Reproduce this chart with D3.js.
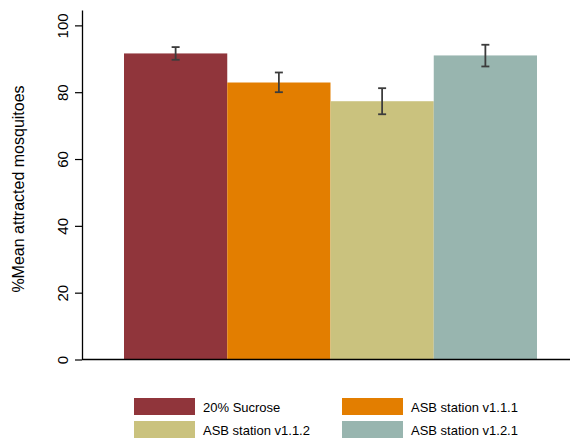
<!DOCTYPE html>
<html>
<head>
<meta charset="utf-8">
<script src="https://cdn.jsdelivr.net/npm/d3@7"></script>
<style>
  body { margin: 0; background: #fff; }
  text { font-family: "Liberation Sans", Arial, Helvetica, sans-serif; fill: #000; }
</style>
</head>
<body>
<svg id="chart" width="572" height="438"></svg>
<script>
// data
var categories = ["20% Sucrose", "ASB station v1.1.1", "ASB station v1.1.2", "ASB station v1.2.1"];
var means = [91.6, 82.9, 77.3, 91.0];
var lower = [89.7, 80.0, 73.4, 87.7];
var upper = [93.5, 85.9, 81.2, 94.2];
var colors = ["#90353b", "#e37e00", "#cac27e", "#98b5af"];
var yTicks = [0, 20, 40, 60, 80, 100];

var svg = d3.select("#chart");

var x = d3.scaleBand()
    .domain(categories)
    .range([124, 537])
    .padding(0);

// plot region runs a bit above 100
var y = d3.scaleLinear()
    .domain([0, 104.6])
    .range([359.5, 10]);

var z = d3.scaleOrdinal()
    .domain(categories)
    .range(colors);

var data = categories.map(function(c, i) {
  return {key: c, mean: means[i], lo: lower[i], hi: upper[i]};
});

// bars
svg.append("g")
  .selectAll("rect")
  .data(data)
  .enter().append("rect")
    .attr("x", function(d) { return x(d.key); })
    .attr("y", function(d) { return y(d.mean); })
    .attr("width", x.bandwidth())
    .attr("height", function(d) { return y(0) - y(d.mean); })
    .attr("fill", function(d) { return z(d.key); });

// error bars
var eb = svg.append("g")
    .attr("stroke", "#3c3c3c")
    .attr("stroke-width", 1.8)
  .selectAll("g")
  .data(data)
  .enter().append("g")
    .attr("transform", function(d) { return "translate(" + (x(d.key) + x.bandwidth() / 2) + ",0)"; });
eb.append("line")
    .attr("y1", function(d) { return y(d.lo); })
    .attr("y2", function(d) { return y(d.hi); });
eb.append("line")
    .attr("x1", -4).attr("x2", 4)
    .attr("y1", function(d) { return y(d.hi); })
    .attr("y2", function(d) { return y(d.hi); });
eb.append("line")
    .attr("x1", -4).attr("x2", 4)
    .attr("y1", function(d) { return y(d.lo); })
    .attr("y2", function(d) { return y(d.lo); });

// y axis
var yAxis = d3.axisLeft(y)
    .tickValues(yTicks)
    .tickSize(7)
    .tickSizeOuter(0)
    .tickPadding(7);

var ya = svg.append("g")
    .attr("transform", "translate(82,0)")
    .call(yAxis);
ya.select(".domain").attr("stroke", "#000").attr("stroke-width", 1.3);
ya.selectAll(".tick line").attr("stroke", "#000").attr("stroke-width", 1.2);
ya.selectAll(".tick text")
    .attr("font-size", 15)
    .attr("font-family", "Liberation Sans, Arial, sans-serif")
    .attr("text-anchor", "middle")
    .attr("x", 0).attr("y", 0).attr("dy", 0)
    .attr("transform", "translate(-14,0) rotate(-90)");

// x axis line
svg.append("line")
    .attr("x1", 82).attr("x2", 570)
    .attr("y1", y(0)).attr("y2", y(0))
    .attr("stroke", "#000")
    .attr("stroke-width", 1.3);

// y title
svg.append("text")
    .attr("transform", "translate(24,189) rotate(-90)")
    .attr("text-anchor", "middle")
    .attr("font-size", 16)
    .text("%Mean attracted mosquitoes");

// legend
var legend = svg.append("g")
    .attr("font-size", 13)
  .selectAll("g")
  .data(categories)
  .enter().append("g")
    .attr("transform", function(d, i) {
      return "translate(" + (134 + (i % 2) * 208) + "," + (398 + Math.floor(i / 2) * 23) + ")";
    });
legend.append("rect")
    .attr("width", 61)
    .attr("height", 17)
    .attr("fill", z);
legend.append("text")
    .attr("x", 69)
    .attr("y", 14)
    .text(function(d) { return d; });
</script>
</body>
</html>
